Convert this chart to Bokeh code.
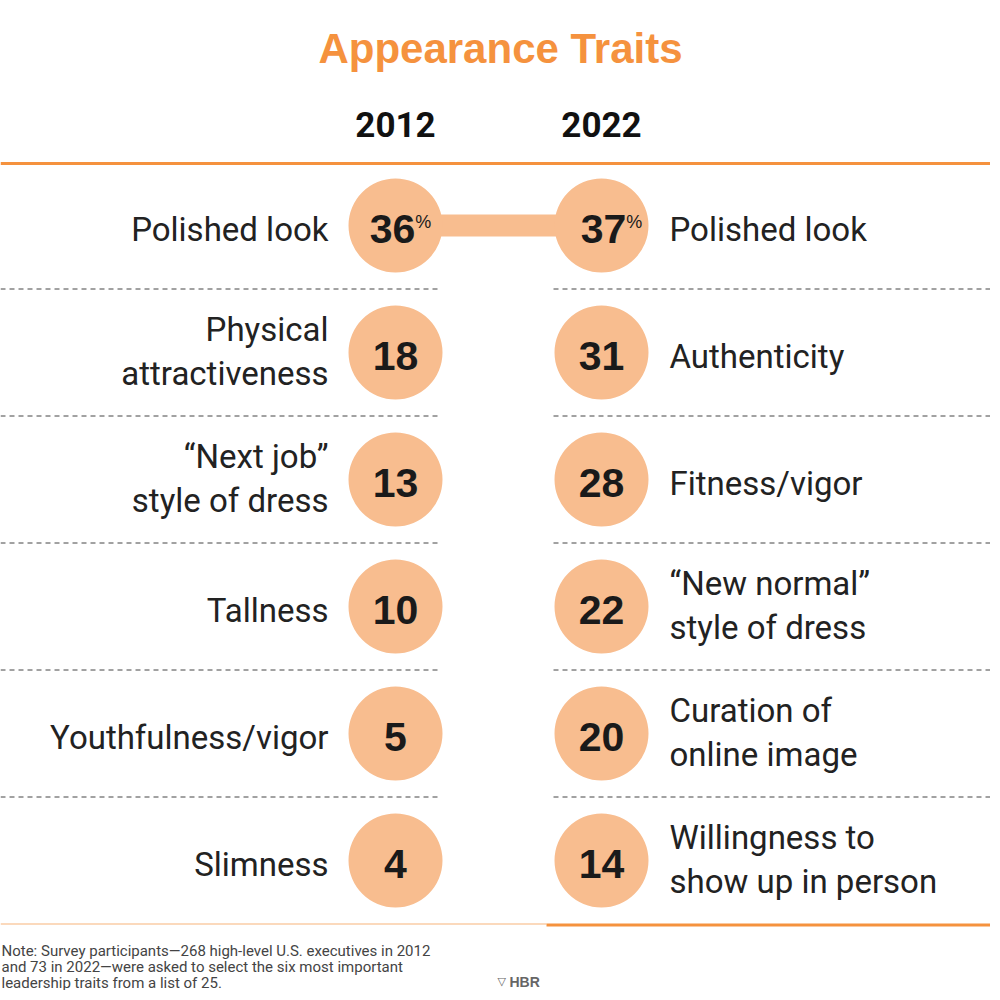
from bokeh.plotting import figure
from bokeh.models import Range1d
from bokeh.core.properties import value
from bokeh.embed import file_html
from bokeh.resources import INLINE

# ---------------- data ----------------
chart_title = "Appearance Traits"
years = ["2012", "2022"]
traits_2012 = ["Polished look", "Physical\nattractiveness", "\u201cNext job\u201d\nstyle of dress",
               "Tallness", "Youthfulness/vigor", "Slimness"]
values_2012 = [36, 18, 13, 10, 5, 4]
traits_2022 = ["Polished look", "Authenticity", "Fitness/vigor",
               "\u201cNew normal\u201d\nstyle of dress", "Curation of\nonline image",
               "Willingness to\nshow up in person"]
values_2022 = [37, 31, 28, 22, 20, 14]
note_lines = [
    "Note: Survey participants\u2014268 high-level U.S. executives in 2012",
    "and 73 in 2022\u2014were asked to select the six most important",
    "leadership traits from a list of 25.",
]
source_label = "HBR"

# ---------------- style / layout ----------------
ORANGE = "#F5923E"
PEACH = "#F8BD8F"
TEXT = "#222222"
LAB = "Roboto"
SANS = "Liberation Sans"

W = H = 990
X_COL = [395, 601]
NUM_SHIFT = [-3, 2]
Y0, STEP, R = 225, 127, 47
LABEL_X = [328, 669]

p = figure(width=W, height=H, x_range=Range1d(0, W), y_range=Range1d(H, 0),
           output_backend="svg", toolbar_location=None, min_border=0,
           x_axis_location=None, y_axis_location=None)
p.grid.visible = False
p.outline_line_color = None
p.background_fill_color = "white"
p.border_fill_color = "white"

def row_y(i):
    return Y0 + i * STEP

n = len(values_2012)

# title and year headers
p.text(x=[500], y=[48], text=[chart_title], text_align="center", text_baseline="middle",
       text_font=value(SANS), text_font_style="bold", text_font_size="42px", text_color=ORANGE)
p.text(x=X_COL, y=[124, 124], text=years, text_align="center", text_baseline="middle",
       text_font=value(LAB), text_font_style="bold", text_font_size="35px", text_color="#111111")

# rule lines
p.segment(x0=[0], y0=[163], x1=[997], y1=[163], line_color=ORANGE, line_width=3)
bottom = row_y(n - 1) + STEP / 2
p.segment(x0=[0], y0=[bottom], x1=[546], y1=[bottom], line_color="#FBD9BC", line_width=2)
p.segment(x0=[546], y0=[bottom + 1], x1=[997], y1=[bottom + 1], line_color=ORANGE, line_width=3)

# dashed separators
sep_y = [row_y(i) + STEP / 2 for i in range(n - 1)]
p.segment(x0=[0] * len(sep_y), y0=sep_y, x1=[438] * len(sep_y), y1=sep_y,
          line_color="#444444", line_width=1, line_dash="5 4")
p.segment(x0=[553] * len(sep_y), y0=sep_y, x1=[997] * len(sep_y), y1=sep_y,
          line_color="#444444", line_width=1, line_dash="5 4")

# connectors for traits present in both years
cx0, cy0, cx1, cy1 = [], [], [], []
for i, t in enumerate(traits_2012):
    if t in traits_2022:
        j = traits_2022.index(t)
        cx0.append(X_COL[0]); cy0.append(row_y(i)); cx1.append(X_COL[1]); cy1.append(row_y(j))
p.segment(x0=cx0, y0=cy0, x1=cx1, y1=cy1, line_color=PEACH, line_width=22)

# circles + numbers
for k, vals in enumerate([values_2012, values_2022]):
    ys = [row_y(i) for i in range(len(vals))]
    p.circle(x=[X_COL[k]] * len(vals), y=ys, radius=R, fill_color=PEACH, line_color=None)
    num_x = [X_COL[k] + (NUM_SHIFT[k] if i == 0 else 0) for i in range(len(vals))]
    p.text(x=num_x, y=[y + 3 for y in ys], text=[str(v) for v in vals],
           text_align="center", text_baseline="middle", text_font=value(SANS),
           text_font_style="bold", text_font_size="41px", text_color="#1a1a1a")
    # percent sign on top value
    w = len(str(vals[0])) * 0.556 * 41
    p.text(x=[num_x[0] + w / 2], y=[ys[0] - 4], text=["%"], text_align="left",
           text_baseline="middle", text_font=value(SANS), text_font_size="18px",
           text_color="#1a1a1a")

# labels (split into lines)
for k, traits in enumerate([traits_2012, traits_2022]):
    lx, ly, lt = [], [], []
    for i, t in enumerate(traits):
        lines = t.split("\n")
        m = len(lines)
        for q, line in enumerate(lines):
            lx.append(LABEL_X[k])
            ly.append(row_y(i) + (q - (m - 1) / 2) * 44 + (4 if m == 1 else -1))
            lt.append(line)
    p.text(x=lx, y=ly, text=lt, text_align="right" if k == 0 else "left",
           text_baseline="middle", text_font=value(LAB), text_font_size="33px",
           text_color=TEXT)

# note
p.text(x=[1] * len(note_lines), y=[950 + 16 * i for i in range(len(note_lines))], text=note_lines,
       text_align="left", text_baseline="middle", text_font=value(LAB),
       text_font_size="15px", text_color="#444444")

# source mark
p.text(x=[497], y=[981], text=["\u25BD"], text_align="left", text_baseline="middle",
       text_font=value("DejaVu Sans"), text_font_size="11px", text_color="#666666")
p.text(x=[509], y=[981], text=[source_label], text_align="left", text_baseline="middle",
       text_font=value(SANS), text_font_style="bold", text_font_size="14px", text_color="#666666")

open("out.html", "w").write(file_html(p, INLINE))
